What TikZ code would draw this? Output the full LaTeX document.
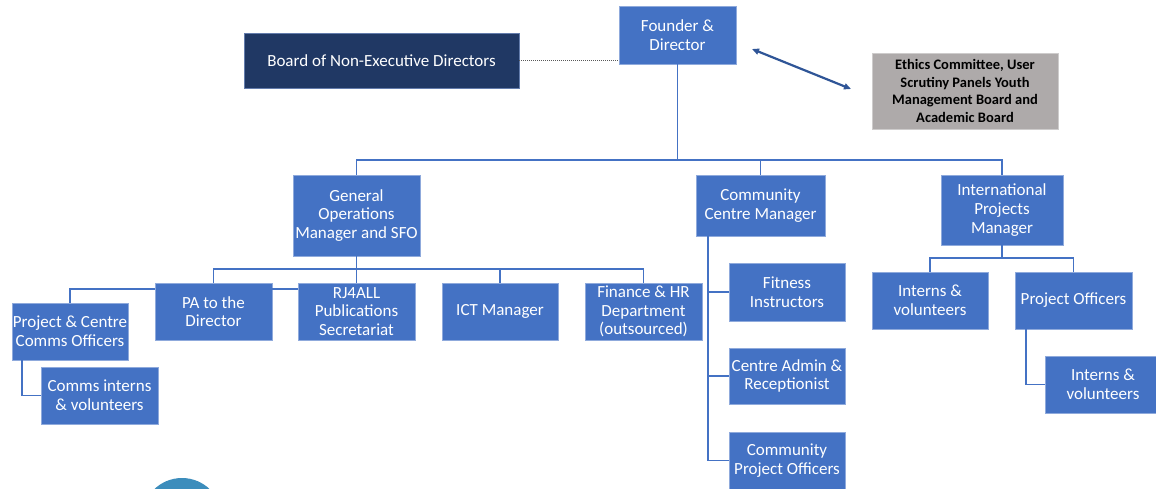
\documentclass[tikz,border=0pt]{standalone}
\usepackage{fontspec}
\setmainfont{Carlito}
\usepackage{xcolor}
\usepackage{tikz}
\usetikzlibrary{arrows.meta}

\definecolor{boxblue}{HTML}{4472C4}
\definecolor{boxedge}{HTML}{8FAADC}
\definecolor{navy}{HTML}{203864}
\definecolor{greybox}{HTML}{AEAAAA}
\definecolor{arrowblue}{HTML}{2F5597}
\definecolor{dotgrey}{HTML}{595959}
\definecolor{teal}{HTML}{3C8DBC}

\tikzset{
	unit/.style={rectangle, fill=boxblue, draw=boxedge, line width=0.8pt,
		text=white, align=center, inner sep=0pt,
		minimum width=117, minimum height=57,
		font=\fontsize{17}{18.6}\selectfont},
	board/.style={unit, fill=navy, draw=boxedge!60!navy},
	panel/.style={unit, fill=greybox, draw=greybox!60!white, text=black,
		font=\fontsize{14.5}{17.6}\selectfont\bfseries},
	link/.style={draw=boxblue, line width=1.9pt}
}

\begin{document}
\begin{tikzpicture}[x=1pt,y=-1pt]
		\clip (0,0) rectangle (1156,488);
		\fill[white] (0,0) rectangle (1156,488);
		
		% top level
		\node[unit, minimum width=117, minimum height=58] (F) at (677.5,35) {Founder \&\\Director};
		\node[board, minimum width=275, minimum height=55] (BD) at (381.5,60.5) {Board of Non-Executive Directors};
		\node[panel, minimum width=186, minimum height=76] (EC) at (965,91) {Ethics Committee, User\\Scrutiny Panels Youth\\Management Board and\\Academic Board};
		\coordinate (a1) at (752,49);
		\coordinate (a2) at (851,89);
		
		% managers
		\node[unit, minimum width=127, minimum height=81] (G) at (356.5,215.5) {General\\Operations\\Manager and SFO};
		\node[unit, minimum width=129, minimum height=61] (C) at (760.5,205.5) {Community\\Centre Manager};
		\node[unit, minimum width=122, minimum height=70] (I) at (1002,210) {International\\Projects\\Manager};
		
		% general operations
		\node[unit] (PA) at (213.5,311.5) {PA to the\\Director};
		\node[unit] (RJ) at (356.5,311.5) {RJ4ALL\\Publications\\Secretariat};
		\node[unit, minimum width=116] (ICT) at (500,311.5) {ICT Manager};
		\node[unit] (FH) at (643.5,311.5) {Finance \& HR\\Department\\(outsourced)};
		\node[unit, minimum width=116] (PC) at (70,331.5) {Project \& Centre\\Comms Officers};
		\node[unit] (CI) at (99.5,395.5) {Comms interns\\\& volunteers};
		
		% community centre
		\node[unit, minimum width=116, minimum height=58] (Fit) at (787,292) {Fitness\\Instructors};
		\node[unit, minimum width=116, minimum height=56] (CA) at (787,376) {Centre Admin \&\\Receptionist};
		\node[unit, minimum width=116] (CP) at (787,460.5) {Community\\Project Officers};
		
		% international projects
		\node[unit, minimum width=116] (IV) at (930,300.5) {Interns \&\\volunteers};
		\node[unit] (PO) at (1073.5,300.5) {Project Officers};
		\node[unit, minimum width=116] (IV2) at (1103,384.5) {Interns \&\\volunteers};
		
		%
		\draw[dotted, dotgrey, line width=1.4pt, dash pattern=on 1pt off 1pt] (BD.east) -- (BD.east -| F.west);
		\draw[arrowblue, line width=2.2pt, {Triangle[length=7pt,width=6pt]}-{Triangle[length=7pt,width=6pt]}] (a1) -- (a2);
		
		\path[link]
			(F.south) -- ++(0,96) -| (G.north)
			(F.south) ++(0,96) -| (C.north)
			(F.south) ++(0,96) -| (I.north)
			
			(G.south) -- ++(0,13) -| (PA.north)
			(G.south) ++(0,13) -| (RJ.north)
			(G.south) ++(0,13) -| (ICT.north)
			(G.south) ++(0,13) -| (FH.north)
			(PA.north west) ++(0,6) -| (PC.north)
			(PA.north east) ++(0,6) -- ([yshift=-6pt]RJ.north west)
			(PC.south west) ++(10,0) |- (CI.west)
			
			(C.south west) ++(12,0) |- (Fit.west)
			(C.south west) ++(12,0) |- (CA.west)
			(C.south west) ++(12,0) |- (CP.west)
			
			(I.south) -- ++(0,13) -| (IV.north)
			(I.south) ++(0,13) -| (PO.north)
			(PO.south west) ++(11,0) |- (IV2.west);
		
		\fill[teal] (182,518) circle (40);
	\end{tikzpicture}
\end{document}
